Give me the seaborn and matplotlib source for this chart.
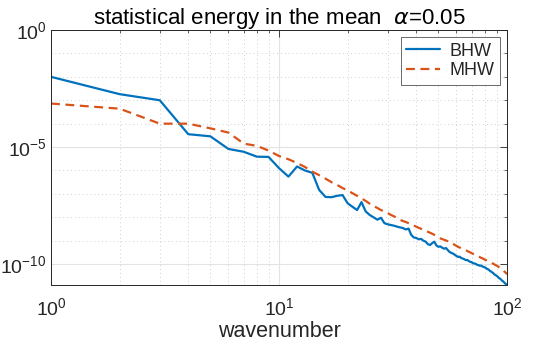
import numpy as np
import pandas as pd
import matplotlib
matplotlib.use('Agg')
import matplotlib.pyplot as plt
import matplotlib.ticker as mticker
import seaborn as sns

# wavenumbers 1..100 and energies (stored as log10 of the value)
wavenumber = list(range(1, 101))

bhw_log10 = [
    -2.00, -2.74, -3.00, -4.45, -4.54, -5.08, -5.20, -5.41, -5.42, -5.90,
    -6.26, -5.83, -6.00, -6.10, -6.83, -7.13, -7.14, -7.08, -7.05, -7.40,
    -7.55, -7.69, -7.35, -7.75, -7.90, -8.00, -8.10, -8.02, -8.25, -8.30,
    -8.33, -8.36, -8.40, -8.43, -8.46, -8.52, -8.48, -8.75, -8.86, -8.88,
    -8.94, -8.92, -9.00, -9.04, -9.15, -9.18, -9.10, -9.04, -9.20, -9.26,
    -9.24, -9.30, -9.34, -9.31, -9.40, -9.48, -9.52, -9.55, -9.60, -9.65,
    -9.69, -9.68, -9.74, -9.76, -9.79, -9.83, -9.82, -9.87, -9.90, -9.92,
    -9.96, -9.97, -9.99, -10.03, -10.04, -10.07, -10.06, -10.10, -10.12, -10.14,
    -10.17, -10.21, -10.23, -10.28, -10.31, -10.35, -10.38, -10.44, -10.46, -10.50,
    -10.53, -10.59, -10.61, -10.65, -10.70, -10.73, -10.77, -10.82, -10.85, -10.89,
]

mhw_log10 = [
    -3.14, -3.36, -4.00, -4.00, -4.20, -4.38, -4.85, -4.95, -5.15, -5.38,
    -5.52, -5.68, -5.85, -6.05, -6.20, -6.35, -6.50, -6.62, -6.75, -6.85,
    -6.97, -7.08, -7.19, -7.30, -7.42, -7.52, -7.60, -7.69, -7.75, -7.82,
    -7.90, -7.96, -8.04, -8.11, -8.16, -8.20, -8.25, -8.30, -8.35, -8.40,
    -8.45, -8.49, -8.53, -8.58, -8.62, -8.66, -8.70, -8.75, -8.80, -8.86,
    -8.90, -8.93, -8.96, -8.99, -9.02, -9.06, -9.09, -9.13, -9.18, -9.22,
    -9.26, -9.29, -9.32, -9.35, -9.38, -9.41, -9.44, -9.47, -9.50, -9.53,
    -9.56, -9.59, -9.61, -9.64, -9.67, -9.70, -9.73, -9.75, -9.78, -9.81,
    -9.83, -9.86, -9.88, -9.91, -9.93, -9.96, -9.98, -10.01, -10.04, -10.06,
    -10.09, -10.12, -10.14, -10.18, -10.22, -10.26, -10.30, -10.34, -10.38, -10.43,
]

df = pd.DataFrame({
    'k': wavenumber * 2,
    'energy': list(10.0 ** np.array(bhw_log10)) + list(10.0 ** np.array(mhw_log10)),
    'model': ['BHW'] * 100 + ['MHW'] * 100,
})

sns.set_style('white')
plt.rcParams['font.family'] = ['Liberation Sans', 'DejaVu Sans']
plt.rcParams['mathtext.fontset'] = 'dejavusans'

fig = plt.figure(figsize=(5.35, 3.46), dpi=100)
ax = fig.add_axes([0.0953, 0.1763, 0.8524, 0.737])

sns.lineplot(data=df, x='k', y='energy', hue='model', style='model',
             palette={'BHW': '#0072BD', 'MHW': '#D95319'},
             dashes={'BHW': '', 'MHW': (4, 2.5)},
             linewidth=1.6, ax=ax)

ax.set_xscale('log')
ax.set_yscale('log')
ax.set_xlim(1, 100)
ax.set_ylim(10.0 ** min(bhw_log10), 1)

ax.set_xticks([1, 10, 100])
ax.set_xticks([m * 10 ** d for d in range(2) for m in range(2, 10)], minor=True)
ax.set_yticks([1e-10, 1e-5, 1])
ax.set_yticks([10.0 ** e for e in [-9, -8, -7, -6, -4, -3, -2, -1]], minor=True)
ax.xaxis.set_minor_formatter(mticker.NullFormatter())
ax.yaxis.set_minor_formatter(mticker.NullFormatter())

ax.grid(True, which='major', color='#e3e3e3', linewidth=0.8, linestyle='-')
ax.grid(True, which='minor', color='#d0d0d0', linewidth=0.7, linestyle=(0, (1, 3)))

ax.tick_params(which='both', direction='in', top=True, right=True,
               colors='#262626', labelsize=14)
ax.tick_params(which='major', length=5, width=0.6)
ax.tick_params(which='minor', length=2.5, width=0.5)
ax.tick_params(axis='x', pad=9)
ax.tick_params(axis='y', pad=3)
for s in ax.spines.values():
    s.set_color('#262626')
    s.set_linewidth(0.7)

ax.set_title(r'statistical energy in the mean  $\alpha$=0.05', fontsize=16,
             color='#000000', pad=4)
ax.set_xlabel('wavenumber', fontsize=15.5, color='#262626', labelpad=1)
ax.set_ylabel('')

leg = ax.legend(loc='upper right', fontsize=13, frameon=True, fancybox=False,
                edgecolor='#262626', borderpad=0.3, handlelength=1.9,
                handletextpad=0.5, labelspacing=0.15, borderaxespad=0.4)
leg.get_frame().set_linewidth(0.6)
leg.set_title(None)

fig.savefig('out.png', dpi=100)
